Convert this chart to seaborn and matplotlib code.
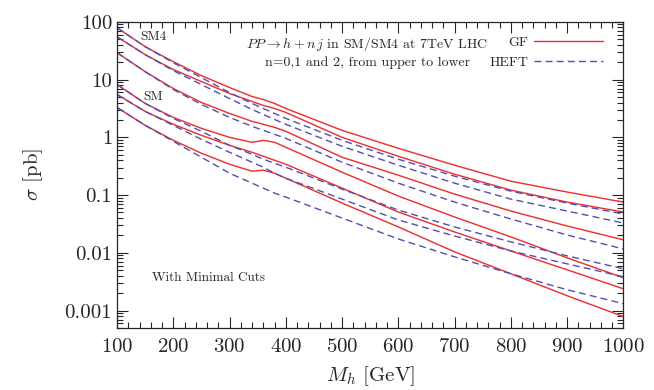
import pandas as pd
import matplotlib
matplotlib.use("Agg")
import matplotlib.pyplot as plt
import matplotlib.ticker as mticker
import seaborn as sns

# Higgs mass grid [GeV]
mass = [100, 150, 200, 250, 300, 340, 360, 380, 400, 500, 600, 700, 800, 900, 1000]

# cross sections [pb], SM4 group (n = 0, 1, 2)
sm4_gf_0 = [78.8, 37.1, 20.4, 11.7, 7.28, 5.09, 4.52, 3.86, 3.16, 1.32, 0.646, 0.329, 0.174, 0.113, 0.0757]
sm4_gf_1 = [55.1, 27.0, 14.9, 9.24, 5.74, 4.18, 3.56, 3.16, 2.70, 1.00, 0.470, 0.230, 0.122, 0.0757, 0.0509]
sm4_gf_2 = [29.2, 13.7, 7.00, 4.01, 2.59, 1.89, 1.68, 1.49, 1.27, 0.452, 0.221, 0.104, 0.0530, 0.0292, 0.0168]
sm4_heft_0 = [78.8, 37.1, 19.6, 10.8, 5.97, 3.86, 3.16, 2.59, 2.13, 0.888, 0.418, 0.213, 0.117, 0.0728, 0.0470]
sm4_heft_1 = [55.1, 27.0, 14.3, 8.20, 4.70, 3.04, 2.49, 2.04, 1.68, 0.700, 0.329, 0.161, 0.0853, 0.0530, 0.0329]
sm4_heft_2 = [29.2, 13.7, 6.72, 3.71, 2.21, 1.55, 1.32, 1.13, 0.961, 0.371, 0.161, 0.0757, 0.0386, 0.0204, 0.0117]

# SM group
sm_gf_0 = [8.20, 3.86, 2.21, 1.43, 1.00, 0.820, 0.888, 0.820, 0.672, 0.249, 0.0961, 0.0418, 0.0189, 0.00820, 0.00371]
sm_gf_1 = [5.51, 2.81, 1.68, 1.08, 0.728, 0.551, 0.470, 0.401, 0.342, 0.132, 0.0509, 0.0230, 0.0108, 0.00509, 0.00239]
sm_gf_2 = [3.29, 1.61, 0.888, 0.530, 0.342, 0.259, 0.270, 0.239, 0.196, 0.0728, 0.0281, 0.0104, 0.00435, 0.00181, 0.000788]
sm_heft_0 = [8.20, 3.86, 2.13, 1.27, 0.728, 0.509, 0.418, 0.356, 0.304, 0.127, 0.0551, 0.0281, 0.0155, 0.00888, 0.00530]
sm_heft_1 = [5.51, 2.81, 1.61, 0.924, 0.551, 0.371, 0.304, 0.239, 0.196, 0.0853, 0.0371, 0.0196, 0.0108, 0.00646, 0.00386]
sm_heft_2 = [3.29, 1.61, 0.853, 0.452, 0.239, 0.161, 0.132, 0.108, 0.0924, 0.0401, 0.0174, 0.00853, 0.00435, 0.00230, 0.00132]

curves = {
    ("GF", "sm4_0"): sm4_gf_0, ("GF", "sm4_1"): sm4_gf_1, ("GF", "sm4_2"): sm4_gf_2,
    ("HEFT", "sm4_0"): sm4_heft_0, ("HEFT", "sm4_1"): sm4_heft_1, ("HEFT", "sm4_2"): sm4_heft_2,
    ("GF", "sm_0"): sm_gf_0, ("GF", "sm_1"): sm_gf_1, ("GF", "sm_2"): sm_gf_2,
    ("HEFT", "sm_0"): sm_heft_0, ("HEFT", "sm_1"): sm_heft_1, ("HEFT", "sm_2"): sm_heft_2,
}
rows = []
for (method, name), vals in curves.items():
    for m, v in zip(mass, vals):
        rows.append({"M": m, "sigma": v, "method": method, "curve": method + name})
df = pd.DataFrame(rows)

red = "#f52a2a"
blue = "#5050b4"

sns.set_style("ticks")
plt.rcParams["font.family"] = ["cmr10", "DejaVu Serif"]
plt.rcParams["mathtext.fontset"] = "cm"
plt.rcParams["axes.formatter.use_mathtext"] = True

fig = plt.figure(figsize=(6.54, 3.9), dpi=100)
ax = fig.add_axes([0.179, 0.159, 0.774, 0.785])

sns.lineplot(df, x="M", y="sigma", hue="method", style="method", units="curve",
             estimator=None, palette={"GF": red, "HEFT": blue},
             dashes={"GF": "", "HEFT": (5, 3)}, linewidth=1.0, ax=ax, legend=False)

ax.set_yscale("log")
ax.set_xlim(100, 1000)
ax.set_ylim(0.0005, 100)
ax.xaxis.set_major_locator(mticker.MultipleLocator(100))
ax.xaxis.set_minor_locator(mticker.MultipleLocator(20))
ax.set_yticks([0.001, 0.01, 0.1, 1, 10, 100])
ax.set_yticklabels(["0.001", "0.01", "0.1", "1", "10", "100"])
ax.yaxis.set_minor_locator(mticker.LogLocator(base=10, subs=range(2, 10), numticks=20))
ax.yaxis.set_minor_formatter(mticker.NullFormatter())
ax.tick_params(which="both", direction="in", top=True, right=True, labelsize=15, width=0.8)
ax.tick_params(which="major", length=8)
ax.tick_params(which="minor", length=4)
ax.tick_params(axis="x", pad=7)
for s in ax.spines.values():
    s.set_linewidth(0.9)

ax.set_xlabel(r"$M_h$ [GeV]", fontsize=15, labelpad=6)
ax.set_ylabel(r"$\sigma$ [pb]", fontsize=15, labelpad=14)

ax.text(141, 55, "SM4", fontsize=9.5, va="center")
ax.text(146, 5.1, "SM", fontsize=9.5, va="center")
ax.text(545, 42, r"$PP \to h + n\,j$ in SM/SM4 at 7TeV LHC", fontsize=10, ha="center", va="center")
ax.text(545, 20, "n=0,1 and 2, from upper to lower", fontsize=10, ha="center", va="center")
ax.text(163, 0.0037, "With Minimal Cuts", fontsize=9.5, va="center")

handles = [plt.Line2D([], [], color=red, lw=1.0),
           plt.Line2D([], [], color=blue, lw=1.0, dashes=(5, 3))]
ax.legend(handles, ["GF", "HEFT"], loc="upper right", frameon=False, markerfirst=False,
          fontsize=10, handlelength=5, handletextpad=0.4, labelspacing=0.55,
          bbox_to_anchor=(0.985, 0.995))

fig.savefig("out.png", dpi=100)
